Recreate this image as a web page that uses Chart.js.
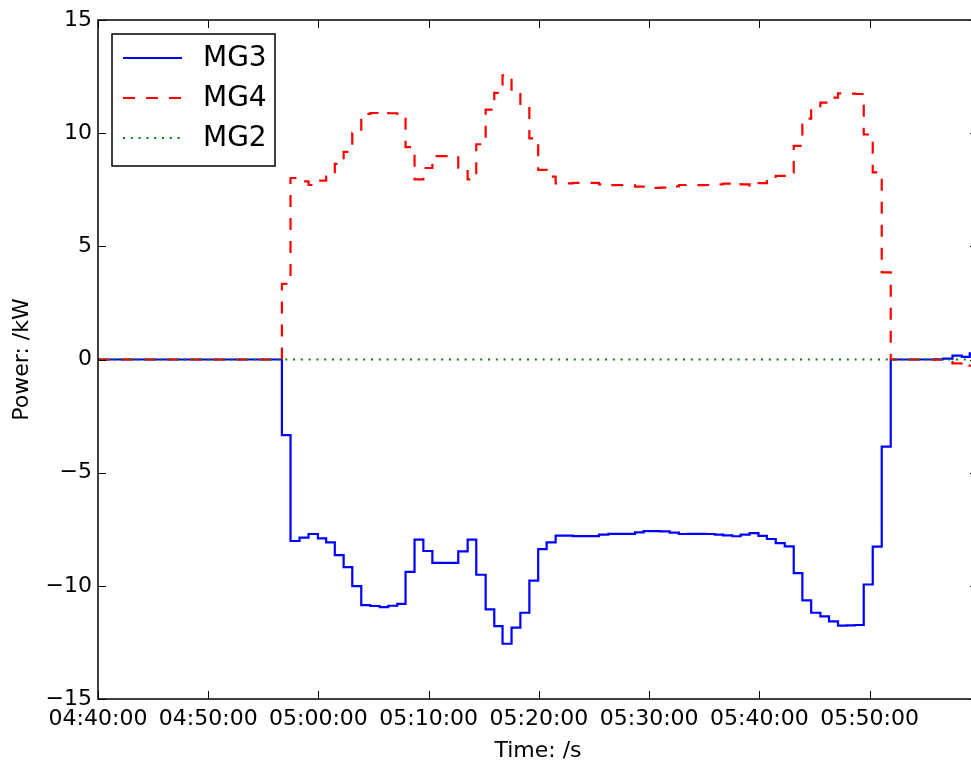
<!DOCTYPE html>
<html lang="en">
<head>
  <meta charset="UTF-8" />
  <title>MG Power</title>
  <script src="https://cdn.jsdelivr.net/npm/chart.js"></script>
  <style>
    html, body { margin: 0; padding: 0; background: #fff; overflow: hidden; }
    #wrap { width: 990px; height: 763px; }
  </style>
</head>
<body>
  <div id="wrap"><canvas id="powerChart" width="990" height="763"></canvas></div>

  <script>
    // sample times (each value holds until the next time)
    const times = [
      '04:40:00', '04:56:41', '04:57:28', '04:58:17', '04:59:06', '04:59:57', '05:00:42', '05:01:29',
      '05:02:17', '05:03:04', '05:03:53', '05:04:42', '05:05:33', '05:06:20', '05:07:09', '05:07:54',
      '05:08:43', '05:09:31', '05:10:20', '05:11:08', '05:11:54', '05:12:41', '05:13:32', '05:14:19',
      '05:15:10', '05:15:57', '05:16:42', '05:17:31', '05:18:19', '05:19:08', '05:19:56', '05:20:42',
      '05:21:31', '05:22:20', '05:23:04', '05:23:53', '05:24:39', '05:25:27', '05:26:18', '05:27:03',
      '05:27:52', '05:28:43', '05:29:30', '05:30:14', '05:30:57', '05:31:52', '05:32:42', '05:33:30',
      '05:34:19', '05:35:08', '05:35:57', '05:36:42', '05:37:33', '05:38:18', '05:39:07', '05:39:55',
      '05:40:41', '05:41:29', '05:42:18', '05:43:07', '05:43:54', '05:44:42', '05:45:32', '05:46:19',
      '05:47:08', '05:47:54', '05:48:41', '05:49:28', '05:50:17', '05:51:06', '05:51:55', '05:55:54',
      '05:56:40', '05:57:31', '05:58:22', '05:59:05', '05:59:50'
    ];

    const mg3 = [
      0, -3.34, -8.02, -7.87, -7.71, -7.90, -8.08, -8.64,
      -9.17, -10.01, -10.85, -10.89, -10.94, -10.88, -10.80, -9.38,
      -7.96, -8.46, -8.99, -8.99, -8.99, -8.48, -7.96, -9.51,
      -11.04, -11.78, -12.56, -11.85, -11.19, -9.77, -8.38, -8.08,
      -7.78, -7.78, -7.80, -7.80, -7.80, -7.74, -7.70, -7.70,
      -7.70, -7.64, -7.58, -7.58, -7.59, -7.65, -7.71, -7.70,
      -7.70, -7.71, -7.74, -7.77, -7.81, -7.74, -7.67, -7.79,
      -7.93, -8.11, -8.26, -9.44, -10.64, -11.19, -11.35, -11.57,
      -11.76, -11.75, -11.73, -9.94, -8.27, -3.85, 0, 0.01,
      0.04, 0.17, 0.12, 0.27, 0.27
    ];

    const mg4 = [
      0, 3.34, 8.02, 7.87, 7.71, 7.90, 8.08, 8.64,
      9.17, 10.01, 10.85, 10.89, 10.94, 10.88, 10.80, 9.38,
      7.96, 8.46, 8.99, 8.99, 8.99, 8.48, 7.96, 9.51,
      11.04, 11.78, 12.56, 11.85, 11.19, 9.77, 8.38, 8.08,
      7.78, 7.78, 7.80, 7.80, 7.80, 7.74, 7.70, 7.70,
      7.70, 7.64, 7.58, 7.58, 7.59, 7.65, 7.71, 7.70,
      7.70, 7.71, 7.74, 7.77, 7.81, 7.74, 7.67, 7.79,
      7.93, 8.11, 8.26, 9.44, 10.64, 11.19, 11.35, 11.57,
      11.76, 11.75, 11.73, 9.94, 8.27, 3.85, 0, -0.01,
      -0.04, -0.17, -0.12, -0.27, -0.27
    ];

    const mg2Times = ['04:40:00', '05:59:50'];
    const mg2 = [0, 0];

    const xTickLabels = ['04:40:00', '04:50:00', '05:00:00', '05:10:00', '05:20:00', '05:30:00', '05:40:00', '05:50:00'];
    const yTicks = [-15, -10, -5, 0, 5, 10, 15];

    function toSec(s) {
      const [h, m, sec] = s.split(':').map(Number);
      return h * 3600 + m * 60 + sec;
    }
    function toClock(v) {
      const p = n => String(n).padStart(2, '0');
      return p(Math.floor(v / 3600)) + ':' + p(Math.floor(v / 60) % 60) + ':' + p(v % 60);
    }
    function points(ts, vs) {
      return ts.map((t, i) => ({ x: toSec(t), y: vs[i] }));
    }

    const family = "'DejaVu Sans', sans-serif";

    // matplotlib-like frame, inward ticks and legend box
    const frameAndLegend = {
      id: 'frameAndLegend',
      afterDraw(chart) {
        const { ctx, chartArea: a, scales: { x, y } } = chart;
        ctx.save();
        ctx.strokeStyle = '#000';
        ctx.lineWidth = 1;
        ctx.beginPath();
        x.ticks.forEach(t => {
          const px = Math.round(x.getPixelForValue(t.value)) + 0.5;
          ctx.moveTo(px, a.top); ctx.lineTo(px, a.top + 8);
          ctx.moveTo(px, a.bottom); ctx.lineTo(px, a.bottom - 8);
        });
        y.ticks.forEach(t => {
          const py = Math.round(y.getPixelForValue(t.value)) + 0.5;
          ctx.moveTo(a.left, py); ctx.lineTo(a.left + 8, py);
          ctx.moveTo(a.right, py); ctx.lineTo(a.right - 8, py);
        });
        ctx.stroke();
        ctx.lineWidth = 1.5;
        ctx.strokeRect(a.left, a.top, a.right - a.left, a.bottom - a.top);

        // legend
        const bx = a.left + 14, by = a.top + 14, bw = 163, bh = 132;
        ctx.fillStyle = '#fff';
        ctx.fillRect(bx, by, bw, bh);
        ctx.strokeRect(bx, by, bw, bh);
        ctx.font = '28px ' + family;
        ctx.textBaseline = 'middle';
        chart.data.datasets.forEach((ds, i) => {
          const ry = by + 24 + i * 40;
          ctx.strokeStyle = ds.borderColor;
          ctx.lineWidth = ds.borderWidth;
          ctx.setLineDash(ds.borderDash || []);
          ctx.beginPath();
          ctx.moveTo(bx + 11, ry); ctx.lineTo(bx + 70, ry);
          ctx.stroke();
          ctx.setLineDash([]);
          ctx.fillStyle = '#000';
          ctx.fillText(ds.label, bx + 91, ry + 1);
        });
        ctx.restore();
      }
    };

    const ctx = document.getElementById('powerChart').getContext('2d');
    new Chart(ctx, {
      type: 'line',
      data: {
        datasets: [
          { label: 'MG3', data: points(times, mg3), borderColor: '#0000ff', borderWidth: 2.2,
            stepped: 'before', pointRadius: 0, order: 3 },
          { label: 'MG4', data: points(times, mg4), borderColor: '#ff0000', borderWidth: 2.2,
            borderDash: [12, 11], stepped: 'before', pointRadius: 0, order: 2 },
          { label: 'MG2', data: points(mg2Times, mg2), borderColor: '#008000', borderWidth: 2,
            borderDash: [2, 5.8], pointRadius: 0, order: 1 }
        ]
      },
      options: {
        responsive: false,
        animation: false,
        layout: { padding: { top: 20, right: 12, left: 0, bottom: 0 } },
        plugins: { legend: { display: false }, tooltip: { enabled: false } },
        scales: {
          x: {
            type: 'linear',
            min: toSec('04:40:00'),
            max: toSec('05:59:50'),
            afterBuildTicks: s => { s.ticks = xTickLabels.map(l => ({ value: toSec(l) })); },
            afterFit: s => { s.height = 64; },
            grid: { display: false, drawTicks: false },
            border: { display: false },
            ticks: { autoSkip: false, maxRotation: 0, padding: 7, color: '#000',
                     font: { family: family, size: 22 }, callback: v => toClock(v) },
            title: { display: true, text: 'Time: /s', color: '#000',
                     font: { family: family, size: 22 }, padding: { top: 0, bottom: -1 } }
          },
          y: {
            min: -15,
            max: 15,
            afterBuildTicks: s => { s.ticks = yTicks.map(v => ({ value: v })); },
            afterFit: s => { s.width = 98; },
            grid: { display: false, drawTicks: false },
            border: { display: false },
            ticks: { padding: 6, color: '#000', font: { family: family, size: 22 },
                     callback: v => String(v).replace('-', '\u2212') },
            title: { display: true, text: 'Power: /kW', color: '#000',
                     font: { family: family, size: 22 }, padding: { top: 9, bottom: 0 } }
          }
        }
      },
      plugins: [frameAndLegend]
    });
  </script>
</body>
</html>
